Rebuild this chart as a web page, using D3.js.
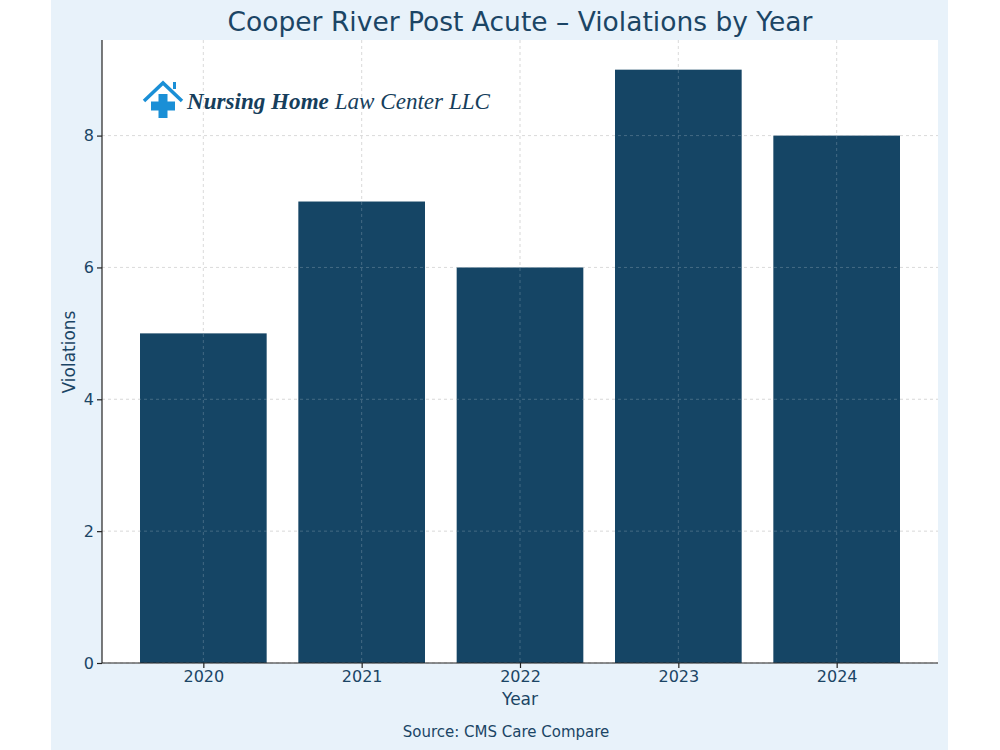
<!DOCTYPE html><html><head><meta charset="utf-8">
<script src="https://cdn.jsdelivr.net/npm/d3@7"></script>
<style>body{margin:0;background:#fff}svg{display:block}</style></head><body>
<script>
const years = ["2020","2021","2022","2023","2024"];
const violations = [5,7,6,9,8];
const yTicks = [0,2,4,6,8];

const W=1000,H=750, L=102,R=938,T=40,B=663;
const txt="#1b4565", barC="#154565";
const svg=d3.select("body").append("svg").attr("width",W).attr("height",H);
svg.append("rect").attr("x",51).attr("y",0).attr("width",897).attr("height",H).attr("fill","#e8f2fa");
svg.append("rect").attr("x",L).attr("y",T).attr("width",R-L).attr("height",B-T).attr("fill","#fff");
const x=d3.scaleLinear().domain([-0.64,4.64]).range([L,R]);
const y=d3.scaleLinear().domain([0,9.45]).range([B,T]);
const g=svg.append("g");
years.forEach((d,i)=>g.append("line").attr("x1",x(i)).attr("x2",x(i)).attr("y1",T).attr("y2",B).attr("stroke","#c8c8c8").attr("stroke-dasharray","3,3").attr("stroke-width",0.8));
yTicks.forEach(t=>g.append("line").attr("x1",L).attr("x2",R).attr("y1",y(t)).attr("y2",y(t)).attr("stroke","#c8c8c8").attr("stroke-dasharray","3,3").attr("stroke-width",0.8));
g.selectAll("rect.bar").data(violations).enter().append("rect").attr("class","bar")
 .attr("x",(d,i)=>x(i-0.4)).attr("width",x(0.4)-x(-0.4)).attr("y",d=>y(d)).attr("height",d=>B-y(d)).attr("fill",barC);
years.forEach((d,i)=>g.append("line").attr("x1",x(i)).attr("x2",x(i)).attr("y1",T).attr("y2",B).attr("stroke","#ffffff").attr("stroke-opacity",0.25).attr("stroke-dasharray","3,3").attr("stroke-width",0.8));
yTicks.forEach(t=>g.append("line").attr("x1",L).attr("x2",R).attr("y1",y(t)).attr("y2",y(t)).attr("stroke","#ffffff").attr("stroke-opacity",0.25).attr("stroke-dasharray","3,3").attr("stroke-width",0.8));
const xa=svg.append("g").attr("transform",`translate(0,${B})`).call(d3.axisBottom(x).tickValues(d3.range(years.length)).tickFormat(i=>years[i]).tickSize(5).tickSizeOuter(0));
const ya=svg.append("g").attr("transform",`translate(${L},0)`).call(d3.axisLeft(y).tickValues(yTicks).tickSize(5).tickSizeOuter(0));
[xa,ya].forEach(a=>{a.selectAll("path,line").attr("stroke","#222").attr("stroke-width",1.2);a.selectAll("text").attr("fill",txt).attr("font-family","DejaVu Sans").attr("font-size",16);});
xa.selectAll("text").attr("y",8).attr("dy","0.71em");
ya.select(".domain").attr("d",`M0,${B}V${T}`);
xa.select(".domain").attr("d",`M${L},0H${R}`);
const f="DejaVu Sans";
svg.append("text").attr("x",520).attr("y",31).attr("text-anchor","middle").attr("font-family",f).attr("font-size",26.5).attr("fill",txt).text("Cooper River Post Acute – Violations by Year");
svg.append("text").attr("x",520).attr("y",705).attr("text-anchor","middle").attr("font-family",f).attr("font-size",17).attr("fill",txt).text("Year");
svg.append("text").attr("transform","translate(75,352) rotate(-90)").attr("text-anchor","middle").attr("font-family",f).attr("font-size",17).attr("fill",txt).text("Violations");
svg.append("text").attr("x",506).attr("y",737).attr("text-anchor","middle").attr("font-family",f).attr("font-size",15).attr("fill",txt).text("Source: CMS Care Compare");
const lg=svg.append("g");
lg.append("path").attr("d","M144,101 L163,83 L182,101").attr("fill","none").attr("stroke","#1a8fd6").attr("stroke-width",3.5);
lg.append("rect").attr("x",173).attr("y",82).attr("width",3).attr("height",7).attr("fill","#1a8fd6");
lg.append("rect").attr("x",158.5).attr("y",94).attr("width",9).attr("height",24).attr("fill","#1a8fd6");
lg.append("rect").attr("x",151).attr("y",101.5).attr("width",24).attr("height",9).attr("fill","#1a8fd6");
const lt=lg.append("text").attr("x",187).attr("y",109).attr("font-family","Liberation Serif").attr("font-style","italic").attr("font-size",24).attr("fill","#163e5c").attr("textLength",303).attr("lengthAdjust","spacingAndGlyphs");
lt.append("tspan").attr("font-weight","bold").text("Nursing Home");
lt.append("tspan").text(" Law Center LLC");
</script></body></html>
